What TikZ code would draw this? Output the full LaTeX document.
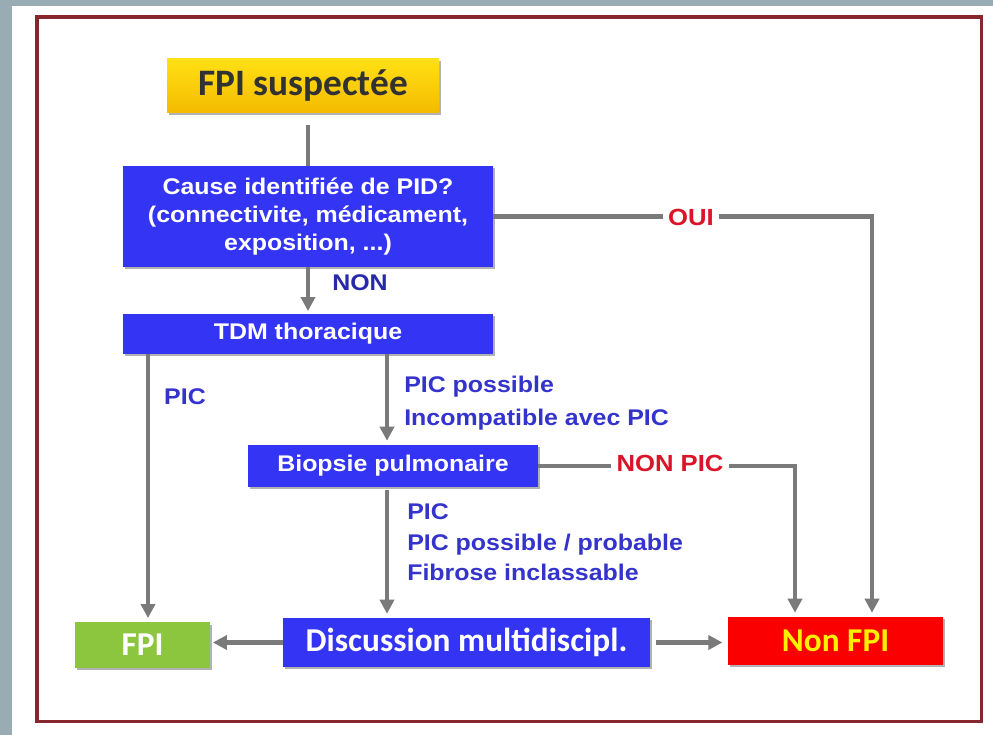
\documentclass[tikz,border=0pt]{standalone}
\usepackage{graphicx}
\usepackage{fontspec}
\setmainfont{Liberation Sans}
\newfontfamily\calfont{Carlito}
\usetikzlibrary{arrows.meta,shadows}
\newcommand\hs[1]{\scalebox{1.1}[1]{#1}}
\definecolor{bggray}{RGB}{154,172,179}
\definecolor{framered}{RGB}{135,38,45}
\definecolor{boxblue}{RGB}{52,52,245}
\definecolor{lblblue}{RGB}{52,52,205}
\definecolor{nonblue}{RGB}{40,40,170}
\definecolor{lblred}{RGB}{220,20,40}
\definecolor{conngray}{RGB}{122,122,122}
\definecolor{fpigreen}{RGB}{140,198,63}
\definecolor{gold1}{RGB}{255,224,20}
\definecolor{gold2}{RGB}{245,186,0}
\definecolor{txtdark}{RGB}{50,50,50}
\definecolor{nonfpired}{RGB}{250,0,0}
\definecolor{nonfpiyel}{RGB}{255,240,0}
\tikzset{
  shadowed/.style={drop shadow={shadow xshift=1.8pt, shadow yshift=-1.8pt, opacity=0.3, fill=black}},
  bluebox/.style={shadowed, fill=boxblue, text=white, align=center, inner sep=0pt,
    font=\bfseries\fontsize{17}{21}\selectfont},
  calbox/.style={shadowed, inner sep=0pt, font=\calfont\bfseries\fontsize{25}{28}\selectfont},
  goldbox/.style={shadowed, top color=gold1, bottom color=gold2, text=txtdark, inner sep=0pt,
    font=\calfont\bfseries\fontsize{28}{30}\selectfont},
  conn/.style={draw=conngray, line width=3.2pt},
  arr/.style={conn, -{Triangle[length=10.5pt,width=10.5pt]}},
  lbl/.style={text=lblblue, inner sep=0pt, font=\bfseries\fontsize{17}{22}\selectfont},
  rlbl/.style={text=lblred, fill=white, inner sep=4pt, font=\bfseries\fontsize{17.5}{22}\selectfont},
}
\begin{document}
\begin{tikzpicture}[x=0.75pt,y=-0.75pt]
\fill[bggray] (0,0) rectangle (993,735);
\fill[white] (12,6) rectangle (993,735);
\draw[framered, line width=2.4pt] (37,17) rectangle (981.5,721.5);

% nodes
\node[goldbox, minimum width=204pt, minimum height=40.5pt] (fpis) at (303,86) {FPI suspectée};
\node[bluebox, minimum width=277.5pt, minimum height=75.75pt] (cause) at (308,216.5)
  {\hs{Cause identifiée de PID?}\\\hs{(connectivite, médicament,}\\\hs{exposition, ...)}};
\node[bluebox, minimum width=277.5pt, minimum height=30pt] (tdm) at (308,334) {\hs{TDM thoracique}};
\node[bluebox, minimum width=217.5pt, minimum height=31.5pt] (biop) at (393,466) {\hs{Biopsie pulmonaire}};
\node[calbox, fill=fpigreen, text=white, minimum width=101.25pt, minimum height=34pt] (fpi) at (142.5,645) {FPI};
\node[calbox, fill=boxblue, text=white, minimum width=275.25pt, minimum height=36.75pt] (disc) at (466.5,642.5) {Discussion multidiscipl.};
\node[calbox, fill=nonfpired, text=nonfpiyel, minimum width=161.25pt, minimum height=36pt] (nonfpi) at (835.5,641) {Non FPI};

% helper coordinates
\coordinate (xl) at (148,0);
\coordinate (xm) at (387,0);
\coordinate (xn) at (795,0);
\coordinate (xo) at (872,0);

% connectors
\draw[conn, shorten <=9pt] (cause.north |- fpis.south) -- (cause.north);
\draw[arr, shorten >=2pt] (cause.south) -- (tdm.north);
\draw[arr, shorten >=3pt] (cause.east) -- (xo |- cause.east) -- (xo |- nonfpi.north);
\draw[arr, shorten >=3pt] (xl |- tdm.south) -- (xl |- fpi.north);
\draw[arr, shorten >=3pt] (xm |- tdm.south) -- (xm |- biop.north);
\draw[arr, shorten <=2pt, shorten >=3pt] (xm |- biop.south) -- (xm |- disc.north);
\draw[arr, shorten >=3pt] (biop.east) -- (xn |- biop.east) -- (xn |- nonfpi.north);
\draw[arr, shorten >=2pt] (disc.west) -- (fpi.east |- disc.west);
\draw[arr, shorten <=4pt, shorten >=4pt] (disc.east) -- (nonfpi.west |- disc.east);

% labels
\node[rlbl] (oui) at (691,217) {\hs{OUI}};
\node[rlbl] (nonpic) at (670,463) {\hs{NON PIC}};
\node[lbl, text=nonblue] (non) at (360,283) {\hs{NON}};
\node[lbl] (pic1) at (185,397) {\hs{PIC}};
\node[lbl, anchor=west, align=left, font=\bfseries\fontsize{17}{24.75}\selectfont] (pic2) at (404,403.5)
  {\hs{PIC possible}\\\hs{Incompatible avec PIC}};
\node[lbl, anchor=west, align=left, font=\bfseries\fontsize{17}{22.9}\selectfont] (pic3) at (407,542.5)
  {\hs{PIC}\\\hs{PIC possible / probable}\\\hs{Fibrose inclassable}};
\end{tikzpicture}
\end{document}
